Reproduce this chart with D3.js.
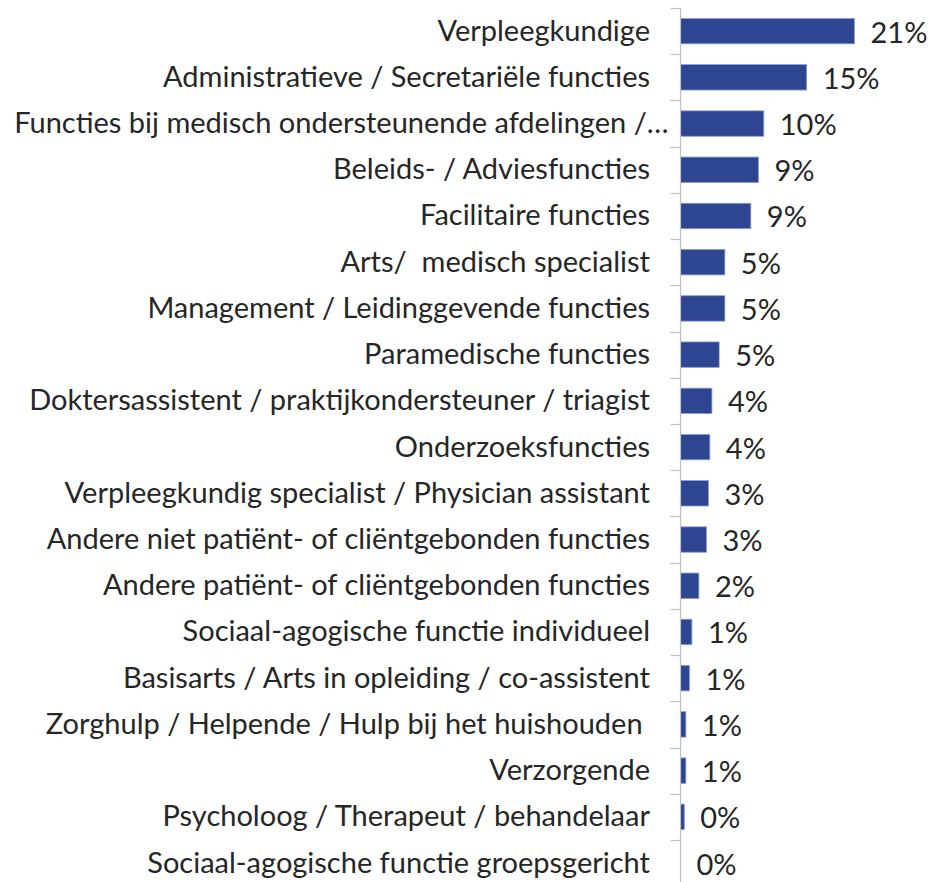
<!DOCTYPE html>
<html>
<head>
<meta charset="utf-8">
<script src="https://cdn.jsdelivr.net/npm/d3@7/dist/d3.min.js"></script>
<style>
  html, body { margin: 0; padding: 0; background: #fff; }
  svg { display: block; }
</style>
</head>
<body>
<div id="chart"></div>
<script>
// Function groups, top to bottom
const categories = [
  "Verpleegkundige",
  "Administratieve / Secretariële functies",
  "Functies bij medisch ondersteunende afdelingen /…",
  "Beleids- / Adviesfuncties",
  "Facilitaire functies",
  "Arts/  medisch specialist",
  "Management / Leidinggevende functies",
  "Paramedische functies",
  "Doktersassistent / praktijkondersteuner / triagist",
  "Onderzoeksfuncties",
  "Verpleegkundig specialist / Physician assistant",
  "Andere niet patiënt- of cliëntgebonden functies",
  "Andere patiënt- of cliëntgebonden functies",
  "Sociaal-agogische functie individueel",
  "Basisarts / Arts in opleiding / co-assistent",
  "Zorghulp / Helpende / Hulp bij het huishouden ",
  "Verzorgende",
  "Psycholoog / Therapeut / behandelaar",
  "Sociaal-agogische functie groepsgericht"
];

// Share of respondents per function group
const shares = [
  0.211, 0.153, 0.101, 0.0945, 0.0853, 0.0538, 0.0538, 0.0469, 0.0381, 0.0356,
  0.0339, 0.0315, 0.0223, 0.0138, 0.0109, 0.0065, 0.0065, 0.0046, 0.0
];

const width = 929, height = 882;
const axisX = 680.5;

const svg = d3.select("#chart").append("svg")
  .attr("width", width)
  .attr("height", height);

const x = d3.scaleLinear()
  .domain([0, 0.211])
  .range([axisX, 854.5]);

const y = d3.scaleBand()
  .domain(categories)
  .range([8, 8 + 19 * 46.22])
  .paddingInner(0.45)
  .paddingOuter(0.225);

const pct = v => Math.round(v * 100) + "%";
const fontFamily = "Lato, 'Open Sans', sans-serif";
const fontSize = 29;
const textColor = "#262626";

// Bars
svg.append("g").selectAll("rect")
  .data(shares)
  .join("rect")
  .attr("x", axisX)
  .attr("y", (d, i) => y(categories[i]))
  .attr("width", d => x(d) - axisX)
  .attr("height", y.bandwidth())
  .attr("fill", "#2E4592")
  .attr("stroke", d => d > 0 ? "#8C9ED2" : "none")
  .attr("stroke-width", 0.8);

// Category axis: line plus ticks on band boundaries
const axisG = svg.append("g");
const step = y.step();
const bounds = d3.range(categories.length + 1).map(i => 8 + i * step);
axisG.append("line")
  .attr("x1", axisX).attr("x2", axisX)
  .attr("y1", bounds[0]).attr("y2", height)
  .attr("stroke", "#BFBFBF").attr("stroke-width", 1.2);
axisG.selectAll("line.tick")
  .data(bounds)
  .join("line")
  .attr("class", "tick")
  .attr("x1", axisX - 10).attr("x2", axisX)
  .attr("y1", d => Math.round(d) + 0.5).attr("y2", d => Math.round(d) + 0.5)
  .attr("stroke", "#BFBFBF").attr("stroke-width", 1.2);

// Category labels; a truncated label (ending in an ellipsis) runs closer to the axis
svg.append("g").selectAll("text")
  .data(categories)
  .join("text")
  .attr("x", d => d.endsWith("…") ? axisX - 12 : axisX - 30.5)
  .attr("y", d => y(d) + y.bandwidth() / 2 + 9.5)
  .attr("text-anchor", "end")
  .attr("font-family", fontFamily)
  .attr("font-size", fontSize)
  .attr("fill", textColor)
  .style("white-space", "pre")
  .text(d => d);

// Value labels
svg.append("g").selectAll("text")
  .data(shares)
  .join("text")
  .attr("x", d => x(d) + 16)
  .attr("y", (d, i) => y(categories[i]) + y.bandwidth() / 2 + 11.5)
  .attr("font-family", fontFamily)
  .attr("font-size", fontSize)
  .attr("fill", textColor)
  .text(d => pct(d));
</script>
</body>
</html>
